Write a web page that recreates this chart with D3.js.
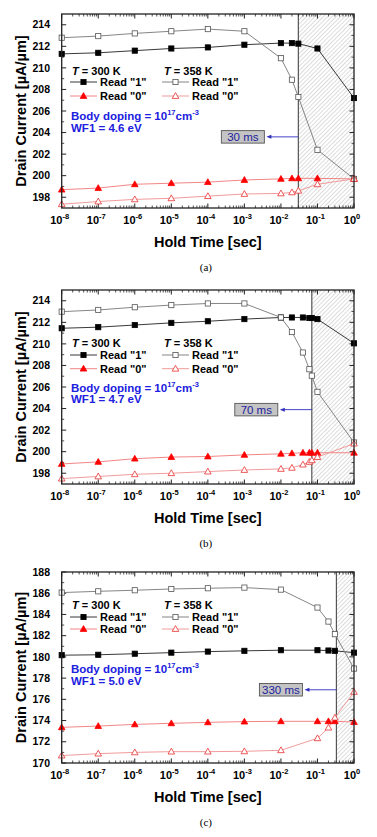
<!DOCTYPE html>
<html lang="en">
<head>
<meta charset="UTF-8">
<title>Drain Current vs Hold Time</title>
<script src="https://d3js.org/d3.v7.min.js"></script>
<style>
  body { margin: 0; background: #fff; }
  svg text { font-family: "Liberation Sans", Arial, sans-serif; }
</style>
</head>
<body>
<div id="chart"></div>
<script>
// hold times (s) per panel
const timesA = [1e-8, 1e-7, 1e-6, 1e-5, 1e-4, 1e-3, 1e-2, 2e-2, 3e-2, 1e-1, 1];
const timesB = [1e-8, 1e-7, 1e-6, 1e-5, 1e-4, 1e-3, 1e-2, 2e-2, 4e-2, 6e-2, 7e-2, 1e-1, 1];
const timesC = [1e-8, 1e-7, 1e-6, 1e-5, 1e-4, 1e-3, 1e-2, 1e-1, 2e-1, 3e-1, 1];

// panel (a), WF1 = 4.6 eV
const a300r1 = [211.3, 211.4, 211.6, 211.8, 211.9, 212.15, 212.3, 212.3, 212.25, 211.8, 207.2];
const a358r1 = [212.8, 212.95, 213.2, 213.4, 213.6, 213.4, 210.9, 208.9, 207.3, 202.4, 199.7];
const a300r0 = [198.7, 198.85, 199.2, 199.3, 199.4, 199.6, 199.7, 199.75, 199.75, 199.75, 199.7];
const a358r0 = [197.35, 197.6, 197.8, 197.9, 198.1, 198.3, 198.35, 198.45, 198.6, 199.2, 199.7];

// panel (b), WF1 = 4.7 eV
const b300r1 = [211.45, 211.55, 211.75, 211.95, 212.1, 212.3, 212.45, 212.45, 212.45, 212.4, 212.4, 212.3, 210.05];
const b358r1 = [212.99, 213.15, 213.4, 213.6, 213.75, 213.75, 212.45, 211.1, 209.2, 207.65, 207.05, 205.55, 200.85];
const b300r0 = [198.86, 199.05, 199.35, 199.5, 199.55, 199.7, 199.8, 199.85, 199.9, 199.9, 199.9, 199.9, 199.9];
const b358r0 = [197.5, 197.7, 197.9, 198.0, 198.15, 198.3, 198.4, 198.5, 198.8, 199.05, 199.2, 199.5, 200.75];

// panel (c), WF1 = 5.0 eV
const c300r1 = [180.16, 180.2, 180.3, 180.4, 180.5, 180.57, 180.63, 180.63, 180.6, 180.57, 180.4];
const c358r1 = [186.06, 186.18, 186.28, 186.4, 186.47, 186.53, 186.34, 184.65, 183.33, 182.14, 178.9];
const c300r0 = [173.36, 173.48, 173.64, 173.74, 173.83, 173.9, 173.93, 173.93, 173.93, 173.93, 173.86];
const c358r0 = [170.7, 170.88, 171.0, 171.07, 171.07, 171.1, 171.2, 172.33, 173.33, 174.27, 176.7];

// retention times (s) and their labels
const retention = [0.03, 0.07, 0.33];
const retentionLabels = ["30 ms", "70 ms", "330 ms"];
const wfLabels = ["WF1 = 4.6 eV", "WF1 = 4.7 eV", "WF1 = 5.0 eV"];
const panelLabels = ["(a)", "(b)", "(c)"];
const yDomains = [[197, 215], [197, 215], [170, 188]];
const labelY = [203.6, 203.9, 176.9];
const xTickExps = [-8, -7, -6, -5, -4, -3, -2, -1, 0];

// layout
const W = 377, H = 837;
const left = 61.7, right = 354;
const tops = [14, 290, 572];
const heights = [194, 194, 191];
const legendOffsets = [[56, 68, 82, 101, 113], [52, 65, 78.7, 97, 108], [32.6, 45, 57, 96, 108]];

const svg = d3.select("#chart").append("svg")
  .attr("width", W).attr("height", H);

const defs = svg.append("defs");
const pat = defs.append("pattern")
  .attr("id", "hatch")
  .attr("patternUnits", "userSpaceOnUse")
  .attr("width", 3).attr("height", 3)
  .attr("patternTransform", "rotate(45)");
pat.append("line")
  .attr("x1", 0).attr("y1", 0).attr("x2", 0).attr("y2", 3)
  .attr("stroke", "#999").attr("stroke-width", 0.7);

const x = d3.scaleLog().domain([1e-8, 1]).range([left, right]);

const panels = [
  { times: timesA, s: [a300r1, a358r1, a300r0, a358r0] },
  { times: timesB, s: [b300r1, b358r1, b300r0, b358r0] },
  { times: timesC, s: [c300r1, c358r1, c300r0, c358r0] }
];

// series styles: 300K read1, 358K read1, 300K read0, 358K read0
const styles = [
  { line: "#222", stroke: "#000", fill: "#000", shape: "sq" },
  { line: "#777", stroke: "#555", fill: "#fff", shape: "sq" },
  { line: "#f07878", stroke: "#ff0000", fill: "#ff0000", shape: "tri" },
  { line: "#f09090", stroke: "#e83030", fill: "#fff", shape: "tri" }
];

function drawMarker(g, cx, cy, st) {
  if (st.shape === "sq") {
    g.append("rect")
      .attr("x", cx - 2.6).attr("y", cy - 2.6)
      .attr("width", 5.2).attr("height", 5.2)
      .attr("fill", st.fill).attr("stroke", st.stroke).attr("stroke-width", 0.8);
  } else {
    g.append("path")
      .attr("d", `M${cx},${cy - 3.4}L${cx + 3.3},${cy + 2.4}L${cx - 3.3},${cy + 2.4}Z`)
      .attr("fill", st.fill).attr("stroke", st.stroke).attr("stroke-width", 0.8);
  }
}

panels.forEach((p, i) => {
  const top = tops[i], h = heights[i], bottom = top + h;
  const y = d3.scaleLinear().domain(yDomains[i]).range([bottom, top]);
  const g = svg.append("g");

  // hatched retention region
  const hx = x(retention[i]);
  g.append("rect")
    .attr("x", hx).attr("y", top)
    .attr("width", right - hx).attr("height", h)
    .attr("fill", "url(#hatch)");
  g.append("line")
    .attr("x1", hx).attr("x2", hx).attr("y1", top).attr("y2", bottom)
    .attr("stroke", "#555").attr("stroke-width", 1.2);

  // axes with inward ticks
  const xMinor = [];
  for (let e = -8; e < 0; e++) for (let k = 2; k <= 9; k++) xMinor.push(k * Math.pow(10, e));
  const xMajor = xTickExps.map(e => Math.pow(10, e));
  const yAll = d3.range(yDomains[i][0], yDomains[i][1] + 0.01, 1);
  const yMajor = yAll.filter(v => v % 2 === 0);
  const yMinor = yAll.filter(v => v % 2 !== 0 && v > yDomains[i][0] && v < yDomains[i][1]);

  [[bottom, -1], [top, 1]].forEach(([yy, dir]) => {
    xMajor.forEach(v => g.append("line")
      .attr("x1", x(v)).attr("x2", x(v)).attr("y1", yy).attr("y2", yy + dir * 4.5)
      .attr("stroke", "#222").attr("stroke-width", 1));
    xMinor.forEach(v => g.append("line")
      .attr("x1", x(v)).attr("x2", x(v)).attr("y1", yy).attr("y2", yy + dir * 2.5)
      .attr("stroke", "#222").attr("stroke-width", 0.8));
  });
  [[left, 1], [right, -1]].forEach(([xx, dir]) => {
    yMajor.forEach(v => g.append("line")
      .attr("x1", xx).attr("x2", xx + dir * 4.5).attr("y1", y(v)).attr("y2", y(v))
      .attr("stroke", "#222").attr("stroke-width", 1));
    yMinor.forEach(v => g.append("line")
      .attr("x1", xx).attr("x2", xx + dir * 2.5).attr("y1", y(v)).attr("y2", y(v))
      .attr("stroke", "#222").attr("stroke-width", 0.8));
  });

  // y tick labels
  yMajor.forEach(v => g.append("text")
    .attr("x", 50).attr("y", y(v) + 3.7)
    .attr("text-anchor", "end")
    .style("font-size", "10.5px").style("font-weight", "bold")
    .text(v));

  // x tick labels 10^n
  xTickExps.forEach(e => {
    const t = g.append("text")
      .attr("x", x(Math.pow(10, e)) - 2).attr("y", bottom + 16)
      .attr("text-anchor", "middle")
      .style("font-size", "11px").style("font-weight", "bold");
    t.append("tspan").text("10");
    t.append("tspan").attr("dy", -5).style("font-size", "7.5px").text(e);
  });

  // axis titles
  g.append("text")
    .attr("x", (left + right) / 2).attr("y", bottom + 39)
    .attr("text-anchor", "middle")
    .style("font-size", "14.5px").style("font-weight", "bold")
    .text("Hold Time [sec]");
  g.append("text")
    .attr("transform", `translate(26,${top + h / 2}) rotate(-90)`)
    .attr("text-anchor", "middle")
    .style("font-size", "14.5px").style("font-weight", "bold")
    .text("Drain Current [\u00b5A/\u00b5m]");
  g.append("text")
    .attr("x", (left + right) / 2 - 2).attr("y", bottom + 63)
    .attr("text-anchor", "middle")
    .style("font-family", "'Liberation Serif', serif")
    .style("font-size", "11px")
    .text(panelLabels[i]);

  // series
  const line = d3.line().x((d, j) => x(p.times[j])).y(d => y(d));
  p.s.forEach((vals, k) => {
    const st = styles[k];
    g.append("path").datum(vals)
      .attr("d", line)
      .attr("fill", "none").attr("stroke", st.line).attr("stroke-width", 0.9);
  });
  p.s.forEach((vals, k) => {
    vals.forEach((v, j) => drawMarker(g, x(p.times[j]), y(v), styles[k]));
  });

  // frame
  g.append("rect")
    .attr("x", left).attr("y", top).attr("width", right - left).attr("height", h)
    .attr("fill", "none").attr("stroke", "#222").attr("stroke-width", 1.3);

  // legend
  const lo = legendOffsets[i];
  const cols = [{ lx: 70, text: "300 K" }, { lx: 162, text: "358 K" }];
  cols.forEach((c, ci) => {
    const tt = g.append("text")
      .attr("x", c.lx + 2).attr("y", top + lo[0] + 4.5)
      .style("font-size", "11px").style("font-weight", "bold");
    tt.append("tspan").style("font-style", "italic").text("T");
    tt.append("tspan").text(" = " + c.text);
    ["Read \"1\"", "Read \"0\""].forEach((lab, r) => {
      const st = styles[r * 2 + ci];
      const ly = top + lo[1 + r];
      g.append("line")
        .attr("x1", c.lx).attr("x2", c.lx + 27).attr("y1", ly).attr("y2", ly)
        .attr("stroke", st.line).attr("stroke-width", 0.9);
      drawMarker(g, c.lx + 13.5, ly, st);
      g.append("text")
        .attr("x", c.lx + 30).attr("y", ly + 4.2)
        .style("font-size", "11px").style("font-weight", "bold")
        .text(lab);
    });
  });

  const bd = g.append("text")
    .attr("x", 71).attr("y", top + lo[3] + 4.5)
    .attr("fill", "#2020e0")
    .style("font-size", "11.5px").style("font-weight", "bold");
  bd.append("tspan").text("Body doping = 10");
  bd.append("tspan").attr("dy", -5).style("font-size", "7.5px").text("17");
  bd.append("tspan").attr("dy", 5).text("cm");
  bd.append("tspan").attr("dy", -5).style("font-size", "7.5px").text("-3");
  g.append("text")
    .attr("x", 71).attr("y", top + lo[4] + 4.5)
    .attr("fill", "#2020e0")
    .style("font-size", "11.5px").style("font-weight", "bold")
    .text(wfLabels[i]);

  // retention label box with arrow
  const by = y(labelY[i]);
  const bw = 43, bh = 12.5;
  const bxR = hx - 34;
  g.append("rect")
    .attr("x", bxR - bw).attr("y", by - bh / 2)
    .attr("width", bw).attr("height", bh)
    .attr("fill", "#c4c4c4").attr("stroke", "#555").attr("stroke-width", 0.9);
  g.append("text")
    .attr("x", bxR - bw / 2).attr("y", by + 4.3)
    .attr("text-anchor", "middle")
    .attr("fill", "#1c1c9c")
    .style("font-size", "11.5px")
    .text(retentionLabels[i]);
  g.append("line")
    .attr("x1", hx).attr("x2", bxR + 5).attr("y1", by).attr("y2", by)
    .attr("stroke", "#3030c0").attr("stroke-width", 0.9);
  g.append("path")
    .attr("d", `M${bxR + 2},${by}L${bxR + 7},${by - 2}L${bxR + 7},${by + 2}Z`)
    .attr("fill", "#3030c0");
});
</script>
</body>
</html>
